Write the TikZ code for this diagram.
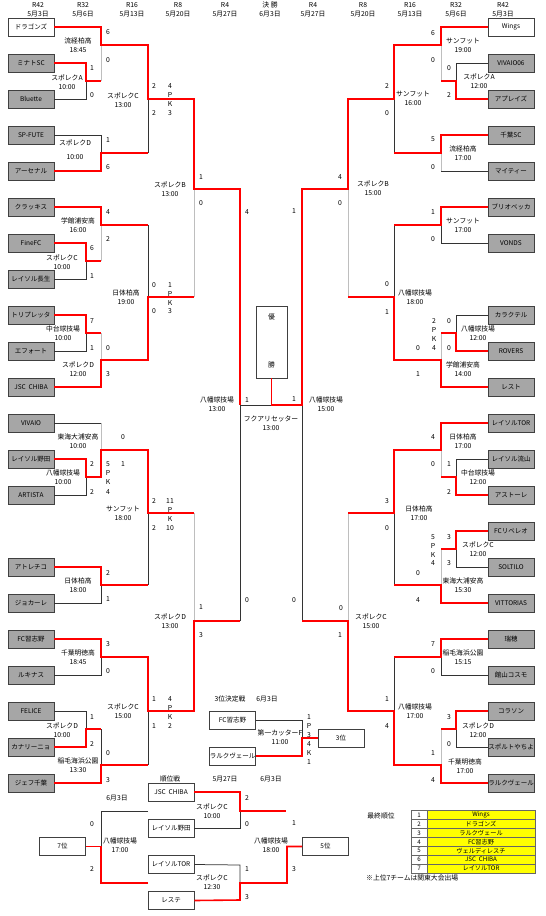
\documentclass[tikz,border=0pt]{standalone}
\usepackage{fontspec}
\setmainfont{Noto Sans CJK JP}
\definecolor{bxg}{RGB}{166,166,166}
\definecolor{lgl}{RGB}{190,190,190}
\definecolor{ylw}{RGB}{255,255,0}
\newcounter{nid}
\newcommand\Tx[3]{\stepcounter{nid}\node[#1] (n\arabic{nid}) at (#2) {#3};}
\newcommand\Sc[2]{\Tx{sco}{#1}{#2}}
\newcommand\Lb[4]{\Tx{lab}{#1,#2+4.5}{#3\\#4}}
\tikzset{
 win/.style={draw=red, line width=1.6pt},
 los/.style={draw=black!80, line width=0.75pt},
 lgy/.style={draw=lgl, line width=0.75pt},
 tbox/.style={draw=black!75, line width=0.8pt, fill=bxg, minimum width=46pt, minimum height=18pt, inner sep=0pt, font=\fontsize{6.5}{7}\selectfont},
 wbox/.style={tbox, fill=white},
 sco/.style={inner sep=0pt, font=\fontsize{6.8}{8}\selectfont},
 lab/.style={inner sep=0pt, align=center, font=\fontsize{6.8}{9}\selectfont},
 rkn/.style={draw=black!60, line width=0.6pt, minimum width=16pt, minimum height=8.9pt, inner sep=0pt, font=\fontsize{6.2}{7}\selectfont},
 rkt/.style={rkn, fill=ylw, minimum width=108pt},
}
\begin{document}
\begin{tikzpicture}[x=1pt,y=-1pt]
\useasboundingbox (0,0) rectangle (546,916);
\fill[white] (0,0) rectangle (546,916);
% headers
\Sc{38,5}{R42}\Sc{38,14}{5月3日}
\Sc{83,5}{R32}\Sc{83,14}{5月6日}
\Sc{132,5}{R16}\Sc{132,14}{5月13日}
\Sc{178,5}{R8}\Sc{178,14}{5月20日}
\Sc{225,5}{R4}\Sc{225,14}{5月27日}
\Sc{270,5}{決\ 勝}\Sc{270,14}{6月3日}
\Sc{313,5}{R4}\Sc{313,14}{5月27日}
\Sc{363,5}{R8}\Sc{363,14}{5月20日}
\Sc{410,5}{R16}\Sc{410,14}{5月13日}
\Sc{456,5}{R32}\Sc{456,14}{5月6日}
\Sc{503,5}{R42}\Sc{503,14}{5月3日}
% left teams
\node[wbox] (L0) at (31,27) {ドラゴンズ};
\node[tbox] (L1) at (31,63) {ミナトSC};
\node[tbox] (L2) at (31,99) {Bluette};
\node[tbox] (L3) at (31,135) {SP-FUTE};
\node[tbox] (L4) at (31,171) {アーセナル};
\node[tbox] (L5) at (31,207) {クラッキス};
\node[tbox] (L6) at (31,243) {FineFC};
\node[tbox] (L7) at (31,279) {レイソル長生};
\node[tbox] (L8) at (31,315) {トリプレッタ};
\node[tbox] (L9) at (31,351) {エフォート};
\node[tbox] (L10) at (31,387) {JSC\ \ CHIBA};
\node[tbox] (L11) at (31,423) {VIVAIO};
\node[tbox] (L12) at (31,459) {レイソル野田};
\node[tbox] (L13) at (31,495) {ARTISTA};
\node[tbox] (L15) at (31,567) {アトレチコ};
\node[tbox] (L16) at (31,603) {ジョカーレ};
\node[tbox] (L17) at (31,639) {FC習志野};
\node[tbox] (L18) at (31,675) {ルキナス};
\node[tbox] (L19) at (31,711) {FELICE};
\node[tbox] (L20) at (31,747) {カナリーニョ};
\node[tbox] (L21) at (31,783) {ジェフ千葉};
% right teams
\node[wbox] (R0) at (511,27) {Wings};
\node[tbox] (R1) at (511,63) {VIVAIO06};
\node[tbox] (R2) at (511,99) {アプレイズ};
\node[tbox] (R3) at (511,135) {千葉SC};
\node[tbox] (R4) at (511,171) {マイティー};
\node[tbox] (R5) at (511,207) {ブリオベッカ};
\node[tbox] (R6) at (511,243) {VONDS};
\node[tbox] (R8) at (511,315) {カラクテル};
\node[tbox] (R9) at (511,351) {ROVERS};
\node[tbox] (R10) at (511,387) {レスト};
\node[tbox] (R11) at (511,423) {レイソルTOR};
\node[tbox] (R12) at (511,459) {レイソル流山};
\node[tbox] (R13) at (511,495) {アストーレ};
\node[tbox] (R14) at (511,531) {FCリベレオ};
\node[tbox] (R15) at (511,567) {SOLTILO};
\node[tbox] (R16) at (511,603) {VITTORIAS};
\node[tbox] (R17) at (511,639) {瑞穂};
\node[tbox] (R18) at (511,675) {館山コスモ};
\node[tbox] (R19) at (511,711) {コラソン};
\node[tbox] (R20) at (511,747) {スポルトやちよ};
\node[tbox] (R21) at (511,783) {ラルクヴェール};
% final box
\node[draw=black!75, line width=0.8pt, minimum width=31pt, minimum height=72pt, inner sep=0pt] (champ) at (271.5,342) {};
\Tx{lab}{271.5,317}{優}
\Tx{lab}{271.5,365}{勝}
% ---- left lines
\draw[lgy] (101,81) -- (101,45);
\draw[los] (L2.east) -- (86,99) -- (86,81);
\draw[los] (L3.east) -- (101,135) -- (101,153);
\draw[los] (148,153) -- (148,99);
\draw[los] (148,225) -- (148,297);
\draw[lgy] (101,261) -- (101,225);
\draw[los] (L7.east) -- (86,279) -- (86,261);
\draw[lgy] (101,333) -- (101,360);
\draw[los] (L9.east) -- (86,351) -- (86,333);
\draw[lgy] (194,297) -- (194,189);
\draw[los] (L11.east) -- (101,423);
\draw[lgy] (101,423) -- (101,450);
\draw[lgy] (194,513) -- (194,621);
\draw[los] (L13.east) -- (86,495) -- (86,477);
\draw[los] (148,585) -- (148,513);
\draw[los] (L16.east) -- (101,603) -- (101,585);
\draw[los] (240,621) -- (240,405);
\draw[los] (L18.east) -- (101,675) -- (101,657);
\draw[los] (L19.east) -- (86,711) -- (86,729);
\draw[los] (101,729) -- (101,765);
\draw[los] (148,765) -- (148,711);
\draw[los] (240,405) -- (271,405);
\draw[win] (L0.east) -- (101,27) -- (101,45) -- (148,45) -- (148,99) -- (194,99) -- (194,189) -- (240,189) -- (240,405);
\draw[win] (L1.east) -- (86,63) -- (86,81) -- (101,81);
\draw[win] (L4.east) -- (101,171) -- (101,153) -- (148,153);
\draw[win] (L5.east) -- (101,207) -- (101,225) -- (148,225);
\draw[win] (L6.east) -- (86,243) -- (86,261) -- (101,261);
\draw[win] (L8.east) -- (86,315) -- (86,333) -- (101,333);
\draw[win] (L10.east) -- (101,387) -- (101,360) -- (148,360) -- (148,297) -- (194,297);
\draw[win] (L12.east) -- (86,459) -- (86,477) -- (101,477) -- (101,450) -- (148,450) -- (148,513) -- (194,513);
\draw[win] (L15.east) -- (101,567) -- (101,585) -- (148,585);
\draw[win] (L17.east) -- (101,639) -- (101,657) -- (148,657) -- (148,711) -- (194,711) -- (194,621) -- (240,621);
\draw[win] (L20.east) -- (86,747) -- (86,729) -- (101,729);
\draw[win] (L21.east) -- (101,783) -- (101,765) -- (148,765);
% ---- right lines
\draw[los] (R1.west) -- (456,63) -- (456,81);
\draw[lgy] (441,81) -- (441,45);
\draw[los] (394,153) -- (394,99);
\draw[los] (R4.west) -- (441,171);
\draw[lgy] (441,171) -- (441,153);
\draw[los] (394,225) -- (394,297);
\draw[los] (R6.west) -- (441,243) -- (441,225);
\draw[los] (R8.west) -- (456,315) -- (456,333);
\draw[lgy] (441,333) -- (441,360);
\draw[lgy] (348,297) -- (348,189);
\draw[lgy] (348,513) -- (348,621);
\draw[los] (R12.west) -- (456,459) -- (456,477);
\draw[lgy] (441,477) -- (441,450);
\draw[lgy] (441,549) -- (441,585);
\draw[los] (R15.west) -- (456,567) -- (456,549);
\draw[los] (394,585) -- (394,513);
\draw[los] (394,657) -- (394,711);
\draw[los] (R18.west) -- (441,675) -- (441,657);
\draw[lgy] (441,729) -- (441,765);
\draw[los] (R20.west) -- (456,747) -- (456,729);
\draw[los] (302,621) -- (302,405);
\draw[win] (R0.west) -- (441,27) -- (441,45) -- (394,45) -- (394,99) -- (348,99) -- (348,189) -- (302,189) -- (302,405) -- (271.5,405) -- (champ.south);
\draw[win] (R2.west) -- (456,99) -- (456,81) -- (441,81);
\draw[win] (R3.west) -- (441,135) -- (441,153) -- (394,153);
\draw[win] (R5.west) -- (441,207) -- (441,225) -- (394,225);
\draw[win] (R9.west) -- (456,351) -- (456,333) -- (441,333);
\draw[win] (R10.west) -- (441,387) -- (441,360) -- (394,360) -- (394,297) -- (348,297);
\draw[win] (R11.west) -- (441,423) -- (441,450) -- (394,450) -- (394,513) -- (348,513);
\draw[win] (R13.west) -- (456,495) -- (456,477) -- (441,477);
\draw[win] (R14.west) -- (456,531) -- (456,549) -- (441,549);
\draw[win] (R16.west) -- (441,603) -- (441,585) -- (394,585);
\draw[win] (R17.west) -- (441,639) -- (441,657) -- (394,657);
\draw[win] (R19.west) -- (456,711) -- (456,729) -- (441,729);
\draw[win] (R21.west) -- (441,783) -- (441,765) -- (394,765) -- (394,711) -- (348,711) -- (348,621) -- (302,621);
% ---- left scores
\Sc{92,68}{1}\Sc{92,95}{0}
\Sc{108,32}{6}\Sc{108,60}{0}
\Sc{154,86}{2}\Sc{170,86}{4}\Sc{170,95}{P}\Sc{170,104}{K}\Sc{154,113}{2}\Sc{170,113}{3}
\Sc{108,140}{1}\Sc{108,167}{6}
\Sc{201,177}{1}\Sc{201,203}{0}
\Sc{247,212}{4}
\Sc{108,212}{4}\Sc{108,239}{2}
\Sc{92,248}{6}\Sc{92,276}{1}
\Sc{154,285}{0}\Sc{170,285}{1}\Sc{170,294}{P}\Sc{170,303}{K}\Sc{154,311}{0}\Sc{170,311}{3}
\Sc{92,321}{7}\Sc{92,348}{1}
\Sc{108,348}{0}\Sc{108,374}{3}
\Sc{247,400}{1}
\Sc{123,437}{0}\Sc{123,464}{1}
\Sc{92,464}{2}\Sc{108,464}{5}\Sc{108,473}{P}\Sc{108,482}{K}\Sc{92,492}{2}\Sc{108,492}{4}
\Sc{154,501}{2}\Sc{170,501}{11}\Sc{170,510}{P}\Sc{170,519}{K}\Sc{154,528}{2}\Sc{170,528}{10}
\Sc{108,573}{2}\Sc{108,599}{1}
\Sc{201,607}{1}\Sc{201,635}{3}
\Sc{247,600}{0}
\Sc{108,644}{3}\Sc{108,671}{0}
\Sc{154,699}{1}\Sc{170,699}{4}\Sc{170,708}{P}\Sc{170,717}{K}\Sc{154,726}{1}\Sc{170,726}{2}
\Sc{92,717}{1}\Sc{92,744}{2}
\Sc{108,753}{0}\Sc{108,780}{3}
% ---- right scores
\Sc{433,33}{6}\Sc{433,60}{0}
\Sc{449,68}{0}\Sc{449,95}{2}
\Sc{387,86}{2}\Sc{387,113}{0}
\Sc{433,139}{5}\Sc{433,167}{0}
\Sc{340,177}{4}\Sc{340,203}{0}
\Sc{294,211}{1}
\Sc{433,212}{1}\Sc{433,239}{0}
\Sc{387,284}{0}\Sc{387,312}{1}
\Sc{449,321}{0}\Sc{434,321}{2}\Sc{434,330}{P}\Sc{434,339}{K}\Sc{434,348}{4}\Sc{449,348}{0}
\Sc{418,348}{0}\Sc{418,374}{1}
\Sc{294,399}{1}
\Sc{433,437}{4}\Sc{433,464}{0}
\Sc{449,464}{1}\Sc{449,492}{2}
\Sc{387,501}{3}\Sc{387,528}{0}
\Sc{449,537}{3}\Sc{433,537}{5}\Sc{433,546}{P}\Sc{433,555}{K}\Sc{433,563}{4}\Sc{449,563}{3}
\Sc{418,573}{0}\Sc{418,600}{4}
\Sc{294,600}{0}\Sc{341,608}{0}\Sc{340,635}{1}
\Sc{433,644}{7}\Sc{433,671}{0}
\Sc{387,699}{1}\Sc{387,726}{4}
\Sc{449,717}{3}\Sc{449,744}{0}
\Sc{433,753}{1}\Sc{433,780}{4}
% ---- left labels
\Lb{78}{41}{流経柏高}{18:45}
\Lb{67}{78}{スポレクA}{10:00}
\Lb{123}{96}{スポレクC}{13:00}
\Tx{lab}{75,143}{スポレクD}\Tx{lab}{75,157}{10:00}
\Lb{78}{221}{学館浦安高}{16:00}
\Lb{62}{258}{スポレクC}{10:00}
\Lb{170}{185}{スポレクB}{13:00}
\Lb{126}{293}{日体柏高}{19:00}
\Lb{63}{329}{中台球技場}{10:00}
\Lb{78}{365}{スポレクD}{12:00}
\Lb{217}{400}{八幡球技場}{13:00}
\Lb{78}{437}{東海大浦安高}{10:00}
\Lb{63}{473}{八幡球技場}{10:00}
\Lb{123}{509}{サンフット}{18:00}
\Lb{78}{581}{日体柏高}{18:00}
\Lb{170}{617}{スポレクD}{13:00}
\Lb{78}{653}{千葉明徳高}{18:45}
\Lb{123}{707}{スポレクC}{15:00}
\Lb{62}{726}{スポレクD}{10:00}
\Lb{78}{761}{稲毛海浜公園}{13:30}
% ---- right labels
\Lb{463}{41}{サンフット}{19:00}
\Lb{479}{77}{スポレクA}{12:00}
\Lb{413}{94}{サンフット}{16:00}
\Lb{463}{149}{流経柏高}{17:00}
\Lb{373}{184}{スポレクB}{15:00}
\Lb{463}{221}{サンフット}{17:00}
\Lb{415}{293}{八幡球技場}{18:00}
\Lb{478}{329}{八幡球技場}{12:00}
\Lb{463}{365}{学館浦安高}{14:00}
\Lb{326}{400}{八幡球技場}{15:00}
\Lb{463}{437}{日体柏高}{17:00}
\Lb{478}{473}{中台球技場}{12:00}
\Lb{419}{509}{日体柏高}{17:00}
\Lb{478}{545}{スポレクC}{12:00}
\Lb{463}{581}{東海大浦安高}{15:30}
\Lb{371}{617}{スポレクC}{15:00}
\Lb{463}{653}{稲毛海浜公園}{15:15}
\Lb{415}{707}{八幡球技場}{17:00}
\Lb{478}{726}{スポレクD}{12:00}
\Lb{465}{762}{千葉明徳高}{17:00}
% final venue
\Lb{271}{419}{フクアリセッター}{13:00}
% ---- 3rd place
\Sc{230,699}{3位決定戦}\Sc{267,699}{6月3日}
\node[wbox] (T1) at (232.5,720.5) {FC習志野};
\node[wbox] (T2) at (232.5,756) {ラルクヴェール};
\node[wbox] (T3) at (341,738) {3位};
\draw[los] (T1.east) -- (302,720.5) -- (302,738);
\draw[win] (T2.east) -- (302,756) -- (302,738) -- (T3.west);
\Lb{280}{733}{第一カッターF}{11:00}
\Sc{309,717}{1}\Sc{309,726}{P}\Sc{309,735}{3}\Sc{309,744}{4}\Sc{309,753}{K}\Sc{309,762}{1}
% ---- placement
\Sc{170,779}{順位戦}\Sc{225,779}{5月27日}\Sc{271,779}{6月3日}
\Sc{117,798}{6月3日}
\node[wbox] (P1) at (171,792) {JSC\ \ CHIBA};
\node[wbox] (P2) at (171,828) {レイソル野田};
\node[wbox] (P3) at (171,864.5) {レイソルTOR};
\node[wbox] (P4) at (171,900.5) {レステ};
\node[wbox] (P7) at (62.5,846.5) {7位};
\node[wbox] (P5) at (325.5,846.5) {5位};
\draw[los] (P2.east) -- (240,828) -- (240,811);
\draw[win] (P1.east) -- (240,792) -- (240,811) -- (286,811);
\draw[los] (P3.east) -- (240,865) -- (240,883);
\draw[win] (P4.east) -- (240,900) -- (240,883) -- (287,883) -- (287,846.5) -- (P5.west);
\draw[los] (148,811) -- (101,811) -- (101,846.5);
\draw[win] (148,883) -- (101,883) -- (101,846.5) -- (P7.east);
\Lb{212}{807}{スポレクC}{10:00}
\Lb{212}{878}{スポレクC}{12:30}
\Lb{271}{841}{八幡球技場}{18:00}
\Lb{120}{841}{八幡球技場}{17:00}
\Sc{247,798}{2}\Sc{247,824}{0}\Sc{247,869}{1}\Sc{247,897}{3}
\Sc{92,824}{0}\Sc{92,869}{2}
\Sc{294,823}{1}\Sc{294,869}{3}
% ---- standings
\Sc{381,816}{最終順位}
\foreach \i/\nm in {1/Wings,2/ドラゴンズ,3/ラルクヴェール,4/FC習志野,5/ヴェルディレスチ,6/JSC\ \ CHIBA,7/レイソルTOR}{
 \node[rkn] (rn\i) at (419,806.25+8.9*\i) {\i};
 \node[rkt] (rt\i) at (481,806.25+8.9*\i) {\nm};
}
\node[inner sep=0pt, anchor=west, font=\fontsize{6.8}{8}\selectfont] (note) at (366,878) {※上位7チームは関東大会出場};
\end{tikzpicture}
\end{document}
